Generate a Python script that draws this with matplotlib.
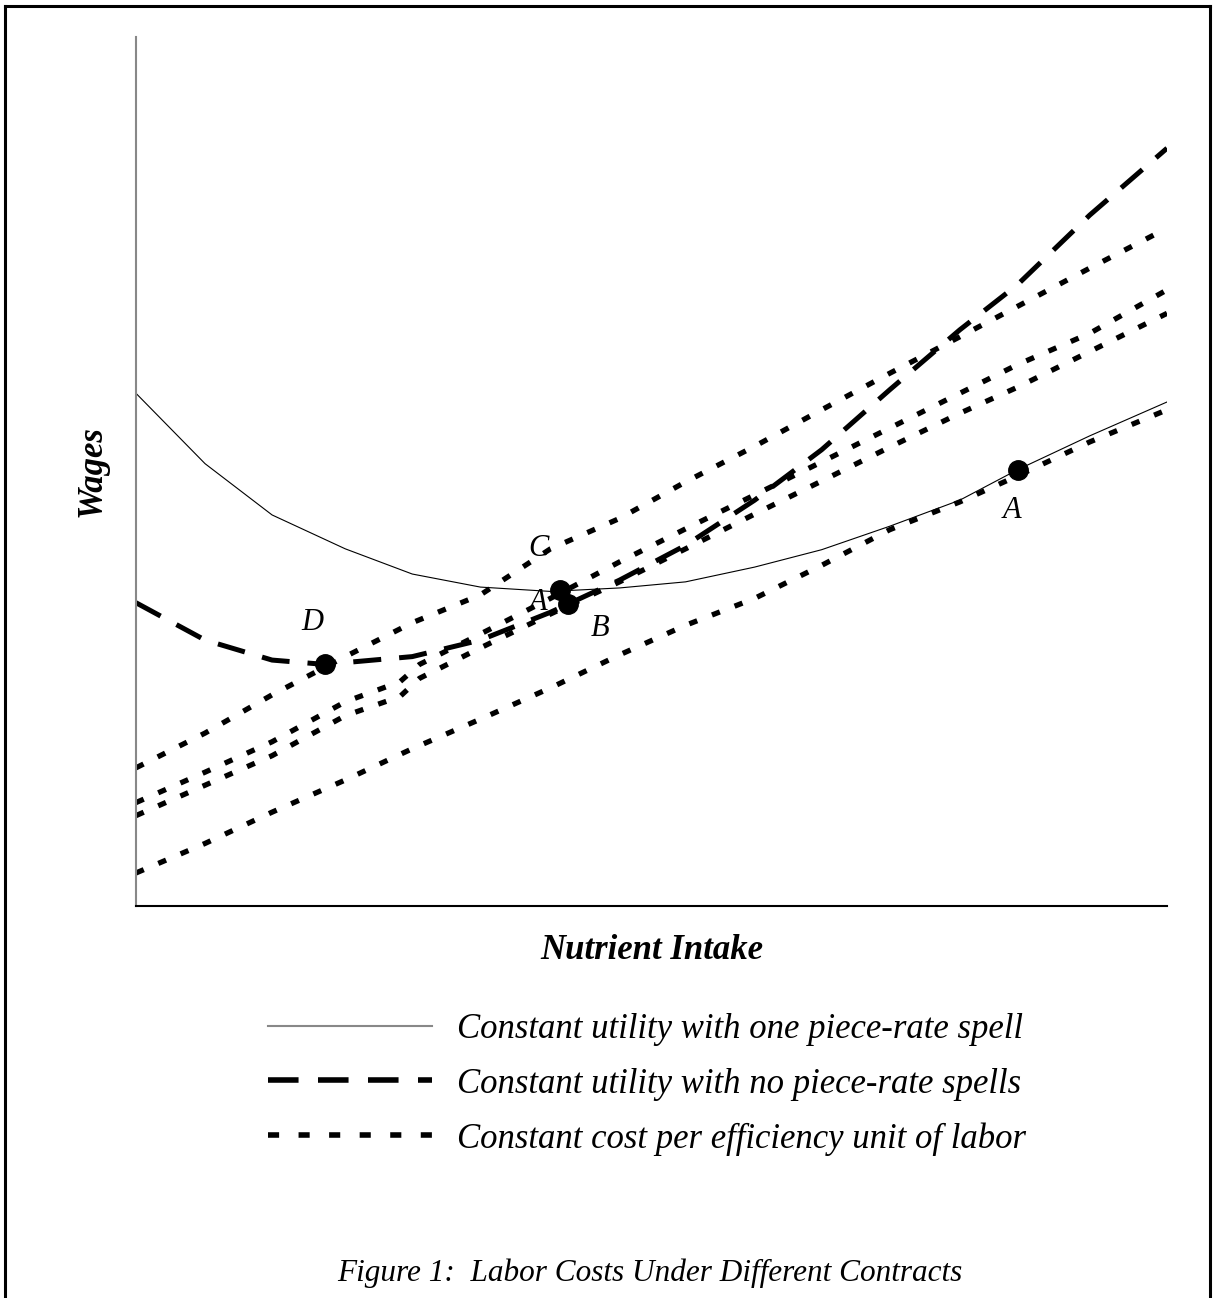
import matplotlib
matplotlib.use("Agg")
import matplotlib.pyplot as plt
from matplotlib.lines import Line2D

# curves (x: nutrient intake, y: wages, arbitrary units 0-100)
x_grid = [0, 6.7, 13.2, 20.3, 26.8, 33.4, 40.2, 46.9, 53.3, 60.0, 66.5, 73.1, 79.9, 85.5, 92.5, 100]

one_spell = [59.0, 50.9, 45.0, 41.1, 38.2, 36.7, 36.2, 36.6, 37.3, 39.0, 41.0, 43.7, 46.7, 50.2, 54.1, 58.0]

no_spell_x = [0, 6.7, 13.2, 18.3, 26.8, 33.4, 40.2, 46.9, 53.3, 60.0, 66.5, 73.1, 79.9, 85.5, 92.5, 100]
no_spell = [34.9, 30.6, 28.3, 27.8, 28.7, 30.6, 33.8, 37.5, 41.5, 46.7, 52.5, 59.4, 66.3, 71.5, 79.5, 87.2]

cost_top = [15.9, 19.9, 24.3, 28.7, 32.6, 35.8, 41.1, 44.6, 48.8, 52.9, 57.1, 61.3, 65.5, 69.0, 73.4, 78.0]

pair_x = [0, 6.7, 13.2, 20.3, 25.6, 27.5, 33.4, 40.2, 46.9, 53.3, 60.0, 66.5, 73.1, 79.9, 85.5, 92.5, 100]
cost_mid_hi = [11.9, 15.4, 18.9, 23.5, 25.8, 27.8, 31.3, 35.4, 39.6, 43.4, 47.3, 51.1, 55.0, 59.0, 62.3, 65.9, 70.9]
cost_mid_lo = [10.4, 13.9, 17.3, 21.9, 24.1, 26.2, 29.7, 33.6, 37.3, 41.1, 45.1, 48.9, 52.8, 56.7, 59.7, 63.8, 68.2]

cost_bottom = [3.8, 7.2, 10.8, 14.5, 18.1, 21.5, 25.1, 28.9, 32.3, 35.4, 39.2, 43.3, 46.5, 49.5, 53.4, 57.1]

pt_names = ["A", "B", "C", "D"]
pt_x = [85.5, 41.9, 41.1, 18.3]
pt_y = [50.2, 34.8, 36.4, 27.8]

legend_labels = ["Constant utility with one piece-rate spell",
                 "Constant utility with no piece-rate spells",
                 "Constant cost per efficiency unit of labor"]

serif = "Liberation Serif"

fig = plt.figure(figsize=(12.13, 12.98), dpi=100)
ax = fig.add_axes([0.1121, 0.302, 0.85, 0.6695])

ax.plot(x_grid, one_spell, color="black", lw=0.8)
ax.plot(no_spell_x, no_spell, color="black", lw=3.6, dashes=(5.6, 3.6), solid_capstyle="butt")
dot_style = dict(color="black", lw=3.8, dashes=(1.6, 3.0), dash_capstyle="butt")
ax.plot(x_grid, cost_top, **dot_style)
ax.plot(pair_x, cost_mid_hi, **dot_style)
ax.plot(pair_x, cost_mid_lo, **dot_style)
ax.plot(x_grid, cost_bottom, **dot_style)

ax.plot(pt_x, pt_y, "o", color="black", ms=14, zorder=5)

lab_style = dict(fontsize=22, style="italic", family=serif, ha="center", va="center")
ax.annotate("A", (pt_x[0], pt_y[0]), xytext=(-4, -29), textcoords="offset points", **lab_style)
ax.annotate("B", (pt_x[1], pt_y[1]), xytext=(23, -18), textcoords="offset points", **lab_style)
ax.annotate("C", (pt_x[2], pt_y[2]), xytext=(-15, 30), textcoords="offset points", **lab_style)
ax.annotate("D", (pt_x[3], pt_y[3]), xytext=(-9, 30), textcoords="offset points", **lab_style)
ax.annotate("A", (pt_x[2], pt_y[2]), xytext=(-16, -9), textcoords="offset points", zorder=1, **lab_style)

ax.set_xlim(0, 100)
ax.set_ylim(0, 100)
ax.set_xticks([])
ax.set_yticks([])
ax.spines["top"].set_visible(False)
ax.spines["right"].set_visible(False)
ax.spines["left"].set_color("#888888")
ax.spines["left"].set_linewidth(1.5)
ax.spines["bottom"].set_linewidth(1.5)

ax.set_xlabel("Nutrient Intake", family=serif, style="italic", weight="bold", fontsize=25, labelpad=20)
ax.set_ylabel("Wages", family=serif, style="italic", weight="bold", fontsize=25, labelpad=20)

handles = [Line2D([], [], color="#888888", lw=1.5),
           Line2D([], [], color="black", lw=4, dashes=(5.5, 3.5), dash_capstyle="butt"),
           Line2D([], [], color="black", lw=4, dashes=(2.0, 3.5), dash_capstyle="butt")]
fig.legend(handles, legend_labels, loc="upper left", bbox_to_anchor=(268 / 1213, 1 - 1013 / 1298),
           frameon=False, handlelength=4.72, handletextpad=0.72, labelspacing=0.62, borderpad=0,
           borderaxespad=0, prop=dict(family=serif, style="italic", size=25))

fig.text(650 / 1213, 1 - 1273 / 1298, "Figure 1:  Labor Costs Under Different Contracts",
         family=serif, style="italic", fontsize=22.5, ha="center", va="center")

# frame around the figure (left, top, right)
for xs, ys in [([5 / 1213, 5 / 1213], [0, 1 - 6 / 1298]),
               ([5 / 1213, 1210 / 1213], [1 - 6 / 1298, 1 - 6 / 1298]),
               ([1210 / 1213, 1210 / 1213], [0, 1 - 6 / 1298])]:
    fig.add_artist(Line2D(xs, ys, color="black", lw=2.2, transform=fig.transFigure))

fig.savefig("out.png", dpi=100)
plt.close(fig)
